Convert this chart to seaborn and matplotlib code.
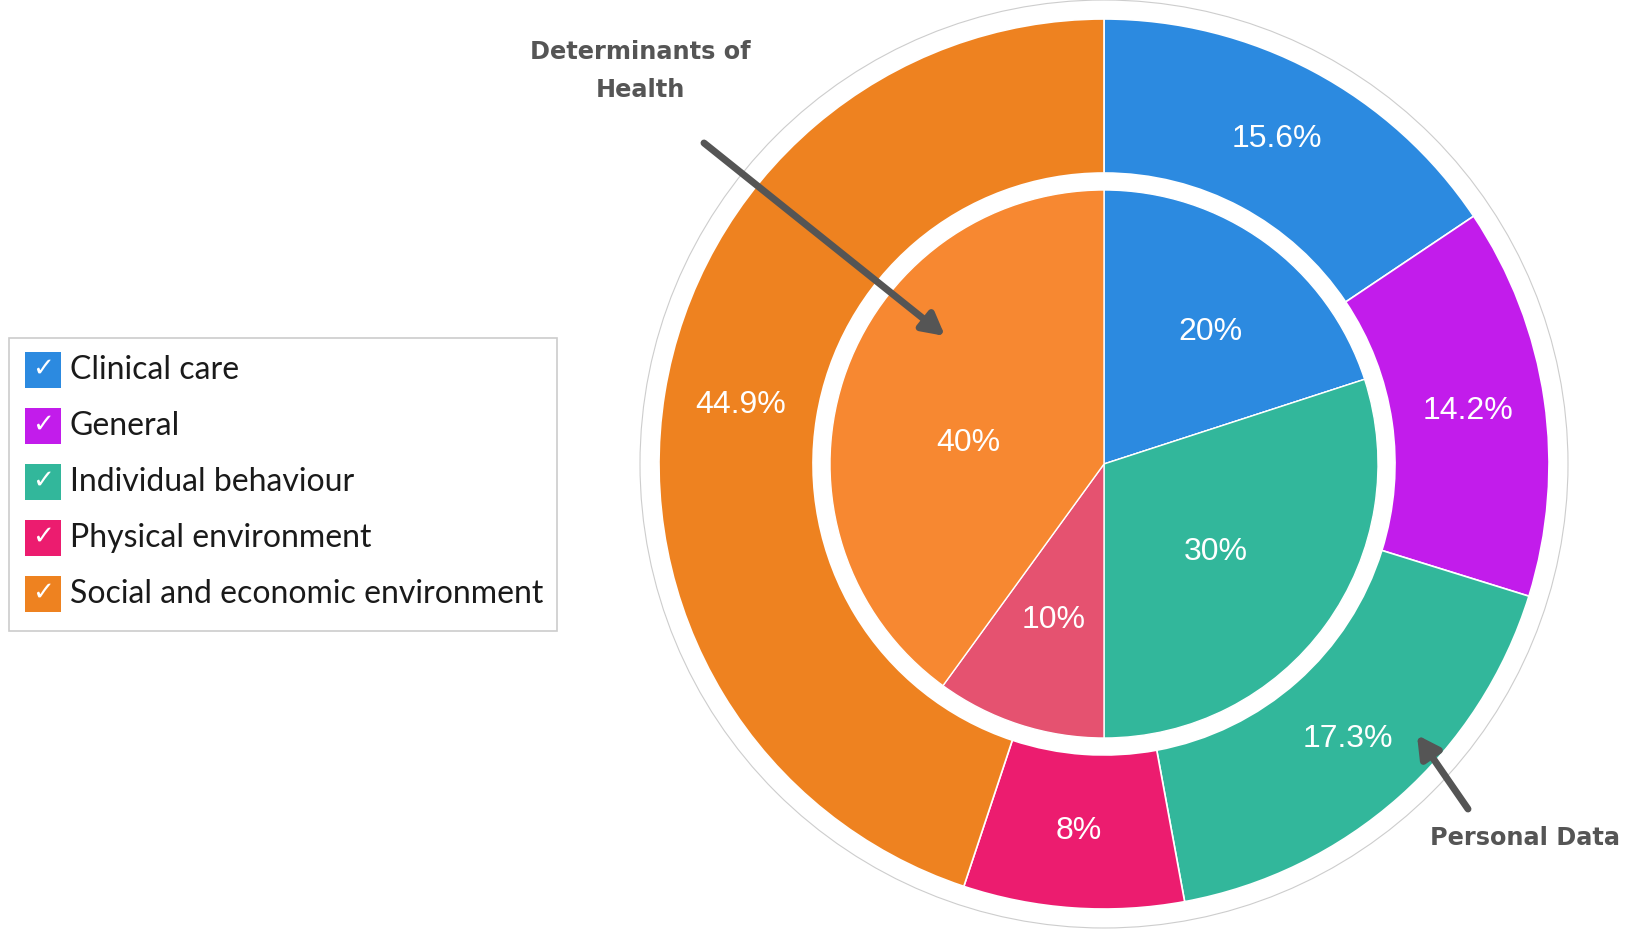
import numpy as np
import matplotlib
matplotlib.use("Agg")
import matplotlib.pyplot as plt
import seaborn as sns
from matplotlib.patches import Rectangle, Circle

# Determinants of health vs. personal data coverage
categories = ["Clinical care", "General", "Individual behaviour",
              "Physical environment", "Social and economic environment"]
personal_data = [15.6, 14.2, 17.3, 8.0, 44.9]      # outer ring (%)
determinants = [20, 0, 30, 10, 40]                 # inner pie (%)
outer_labels = ["15.6%", "14.2%", "17.3%", "8%", "44.9%"]
inner_labels = ["20%", "", "30%", "10%", "40%"]

sns.set_style("white")
outer_colors = sns.color_palette(["#2C8AE0", "#C21CEB", "#32B79B", "#EC1C6F", "#EE8220"])
inner_colors = sns.color_palette(["#2C8AE0", "#C21CEB", "#32B79B", "#E55270", "#F78831"])

W, H = 1629, 933
fig = plt.figure(figsize=(W / 100, H / 100), dpi=100)
ax = fig.add_axes([0, 0, 1, 1])
ax.set_xlim(0, W)
ax.set_ylim(0, H)
ax.set_aspect("equal")
ax.axis("off")


def py(y):
    """Convert a top-down pixel row to data y."""
    return H - y


cx, cy = 1104, py(464)
R_OUT, RING_W, R_IN = 445, 154, 274

# faint outline around the whole chart
ax.add_patch(Circle((cx, cy), 464, fill=False, ec="#cdcdcd", lw=0.8, zorder=1))

wedges_out, _ = ax.pie(personal_data, colors=outer_colors, radius=R_OUT, center=(cx, cy),
                       startangle=90, counterclock=False,
                       wedgeprops=dict(width=RING_W, edgecolor="white", linewidth=1.2))
wedges_in, _ = ax.pie(determinants, colors=inner_colors, radius=R_IN, center=(cx, cy),
                      startangle=90, counterclock=False,
                      wedgeprops=dict(edgecolor="white", linewidth=1.0))
ax.set_xlim(0, W)
ax.set_ylim(0, H)


def mid_angle(values, i):
    total = sum(values)
    start = sum(values[:i]) / total * 360
    return start + values[i] / total * 180   # degrees clockwise from top


pct_font = dict(color="white", fontsize=23, family="Liberation Sans",
                ha="center", va="center", zorder=5)

r_mid = R_OUT - RING_W / 2
for i, lab in enumerate(outer_labels):
    a = np.deg2rad(mid_angle(personal_data, i))
    ax.text(cx + r_mid * np.sin(a), cy + r_mid * np.cos(a), lab, **pct_font)

inner_dist = [0.62, 0.5, 0.52, 0.60, 0.50]
inner_shift = [3, 0, 2, 0, -9]
for i, lab in enumerate(inner_labels):
    if not lab:
        continue
    a = np.deg2rad(mid_angle(determinants, i) + inner_shift[i])
    r = R_IN * inner_dist[i]
    ax.text(cx + r * np.sin(a), cy + r * np.cos(a), lab, **pct_font)

# callouts
note_font = dict(fontsize=17.3, fontweight="bold", color="#555555", family="DejaVu Sans")
ax.text(640, py(71), "Determinants of\nHealth", ha="center", va="center",
        linespacing=1.75, **note_font)
ax.annotate("", xy=(945, py(336)), xytext=(704, py(143)),
            arrowprops=dict(arrowstyle="-|>,head_length=1.3,head_width=0.7",
                            color="#555555", lw=5, shrinkA=0, shrinkB=0), zorder=6)
ax.text(1525, py(838), "Personal Data", ha="center", va="center", **note_font)
ax.annotate("", xy=(1417, py(735)), xytext=(1468, py(809)),
            arrowprops=dict(arrowstyle="-|>,head_length=1.3,head_width=0.7",
                            color="#555555", lw=5, shrinkA=0, shrinkB=0), zorder=6)

# legend with check-box style swatches
ax.add_patch(Rectangle((9, py(631)), 548, 293, fill=False, ec="#cccccc", lw=1.2, zorder=3))
row_y = [370, 426, 482, 538, 594]
for name, col, yy in zip(categories, outer_colors, row_y):
    ax.add_patch(Rectangle((25, py(yy) - 18), 36, 36, fc=col, ec="none", zorder=4))
    ax.text(43, py(yy) + 1, "\u2713", color="white", fontsize=19, ha="center", va="center",
            family=["DejaVu Sans"], zorder=5)
    ax.text(70, py(yy), name, color="#1a1a1a", fontsize=23, family="Lato",
            ha="left", va="center", zorder=5)

fig.savefig("out.png", dpi=100)
